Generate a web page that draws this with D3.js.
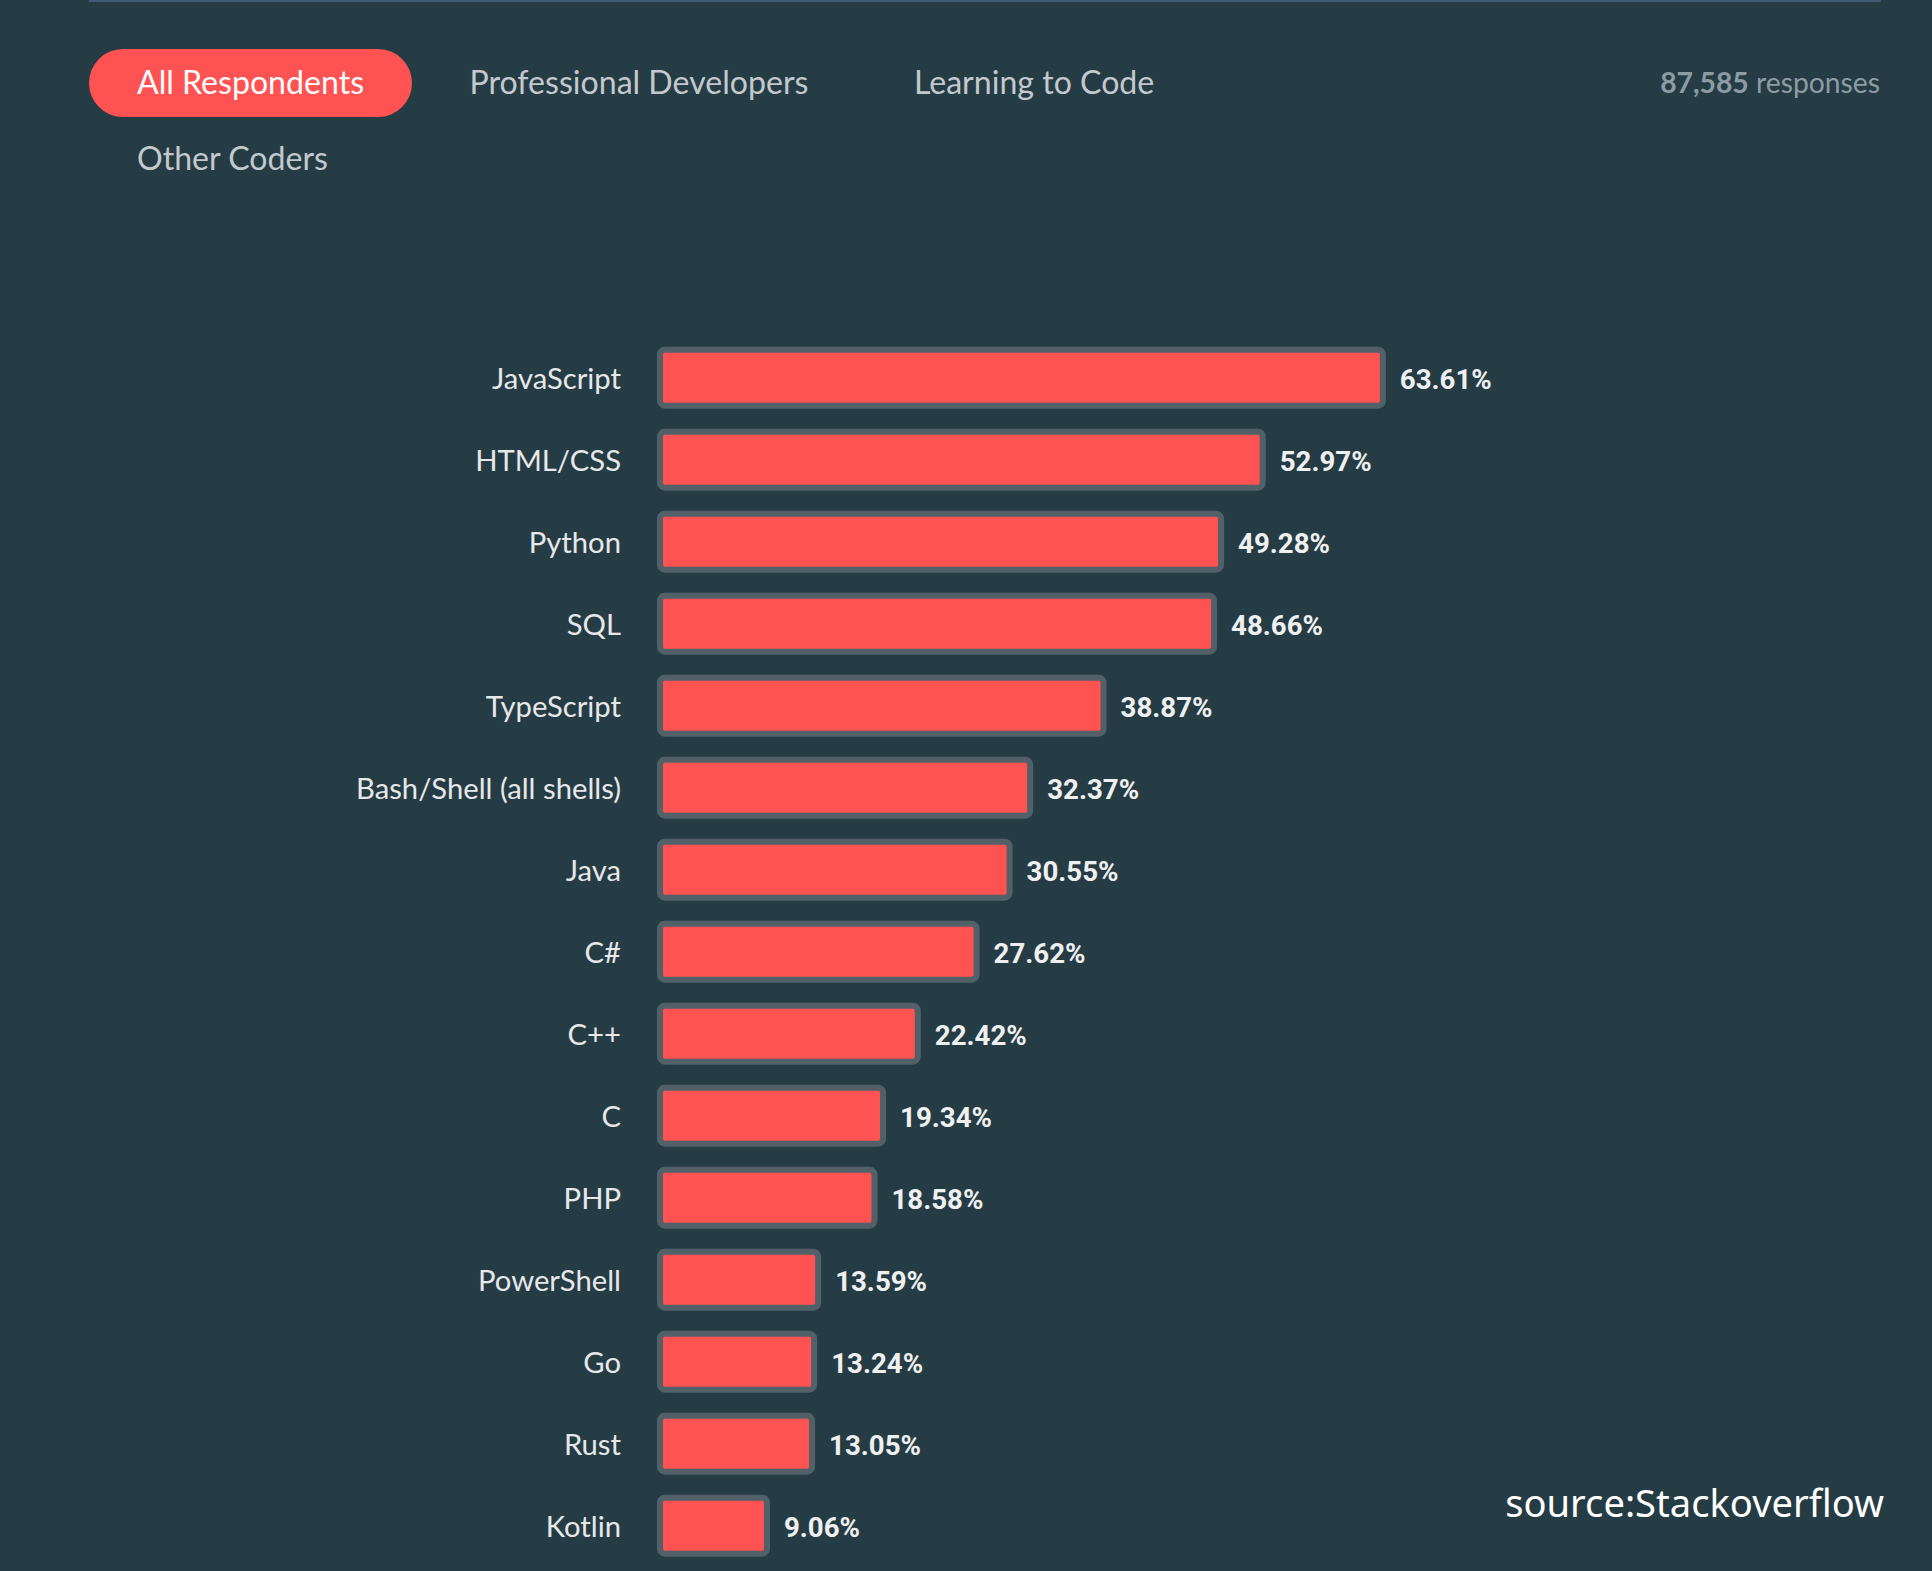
<!DOCTYPE html>
<html>
<head>
<meta charset="utf-8">
<script src="https://cdn.jsdelivr.net/npm/d3@7"></script>
<style>
  html, body { margin: 0; padding: 0; background: #263c45; }
  svg { display: block; }
</style>
</head>
<body>
<svg id="chart" width="1932" height="1571"></svg>
<script>
// ---------- data ----------
const categories = ["JavaScript", "HTML/CSS", "Python", "SQL", "TypeScript",
  "Bash/Shell (all shells)", "Java", "C#", "C++", "C", "PHP", "PowerShell",
  "Go", "Rust", "Kotlin"];
const values = [63.61, 52.97, 49.28, 48.66, 38.87, 32.37, 30.55, 27.62,
  22.42, 19.34, 18.58, 13.59, 13.24, 13.05, 9.06];
const tabs = ["All Respondents", "Professional Developers", "Learning to Code", "Other Coders"];
const activeTab = "All Respondents";
const responseCount = 87585;
const responseLabel = "responses";
const sourceText = "source:Stackoverflow";

// ---------- styles ----------
const C = {
  bg: "#263c45", red: "#ff5252", border: "#526168", label: "#e6e8ea",
  value: "#eef0f1", tab: "#c3c9ce", tabActive: "#ffffff", resp: "#8d9ca4",
  rule: "#3f5c72", source: "#ffffff"
};
const sansFont = "Lato, 'Source Sans Pro', 'Noto Sans', sans-serif";
const valueFont = "Roboto, 'Noto Sans', sans-serif";
const sourceFont = "'Noto Sans', 'Open Sans', sans-serif";

const svg = d3.select("#chart");

// fit a font size so that the given reference text spans the target width
function fitSize(family, weight, text, target, base = 30) {
  const t = svg.append("text").attr("font-family", family).attr("font-weight", weight)
    .attr("font-size", base).text(text);
  const w = t.node().getComputedTextLength();
  t.remove();
  return base * target / w;
}

// ---------- top rule ----------
svg.append("rect").attr("x", 89).attr("y", 0).attr("width", 1881 - 89).attr("height", 2)
  .attr("fill", C.rule);

// ---------- tabs ----------
const tabSize = fitSize(sansFont, 400, "Professional Developers", 339);
const tabPad = 48, tabGap = 9.5, tabRowH = 76.4, tabLeft = 89, tabTop = 49, tabH = 68, tabMaxRight = 1400;
let tx = tabLeft, ty = tabTop;
tabs.forEach(name => {
  const g = svg.append("g");
  const t = g.append("text").attr("font-family", sansFont).attr("font-size", tabSize)
    .attr("fill", name === activeTab ? C.tabActive : C.tab).text(name);
  const w = t.node().getComputedTextLength() + tabPad * 2;
  if (tx + w > tabMaxRight) { tx = tabLeft; ty += tabRowH; }
  if (name === activeTab) {
    g.insert("rect", "text").attr("x", tx).attr("y", ty).attr("width", w).attr("height", tabH)
      .attr("rx", tabH / 2).attr("fill", C.red);
  }
  t.attr("x", tx + tabPad).attr("y", ty + tabH / 2 + 11);
  tx += w + tabGap;
});

// responses count (fitted to its width in the reference)
const respText = svg.append("text").attr("x", 1880).attr("y", 93.3)
  .attr("text-anchor", "end").attr("font-family", sansFont).attr("font-size", 27)
  .attr("fill", C.resp);
respText.append("tspan").attr("font-weight", 700).text(d3.format(",")(responseCount));
respText.append("tspan").text(" " + responseLabel);
const respW = respText.node().getComputedTextLength();
respText.attr("font-size", 27 * 220 / respW);

// ---------- bars ----------
const barOrigin = 660;
const x = d3.scaleLinear().domain([0, 100]).range([664.7, 664.7 + 1129]);
const y = d3.scalePoint().domain(categories).range([377.7, 377.7 + 82 * (categories.length - 1)]);
const barH = 56, strokeW = 6;

const data = categories.map((c, i) => ({ c, v: values[i] }));

svg.append("g").selectAll("rect").data(data).join("rect")
  .attr("x", barOrigin)
  .attr("y", d => y(d.c) - barH / 2)
  .attr("width", d => x(d.v) - barOrigin)
  .attr("height", barH)
  .attr("rx", 5)
  .attr("fill", C.red)
  .attr("stroke", C.border)
  .attr("stroke-width", strokeW);

// category labels
const labelSize = fitSize(sansFont, 400, "Bash/Shell (all shells)", 265);
svg.append("g").selectAll("text").data(data).join("text")
  .attr("x", 621)
  .attr("y", d => y(d.c) + 11.5)
  .attr("text-anchor", "end")
  .attr("font-family", sansFont)
  .attr("font-size", labelSize)
  .attr("fill", C.label)
  .text(d => d.c);

// value labels
const valueSize = fitSize(valueFont, 700, "63.61%", 92);
svg.append("g").selectAll("text").data(data).join("text")
  .attr("x", d => x(d.v) + 17)
  .attr("y", d => y(d.c) + 11)
  .attr("font-family", valueFont)
  .attr("font-weight", 700)
  .attr("font-size", valueSize)
  .attr("fill", C.value)
  .text(d => d3.format(".2f")(d.v) + "%");

// ---------- source ----------
const srcSize = fitSize(sourceFont, 400, sourceText, 379);
svg.append("text").attr("x", 1884).attr("y", 1516.7).attr("text-anchor", "end")
  .attr("font-family", sourceFont).attr("font-size", srcSize)
  .attr("fill", C.source).text(sourceText);
</script>
</body>
</html>
